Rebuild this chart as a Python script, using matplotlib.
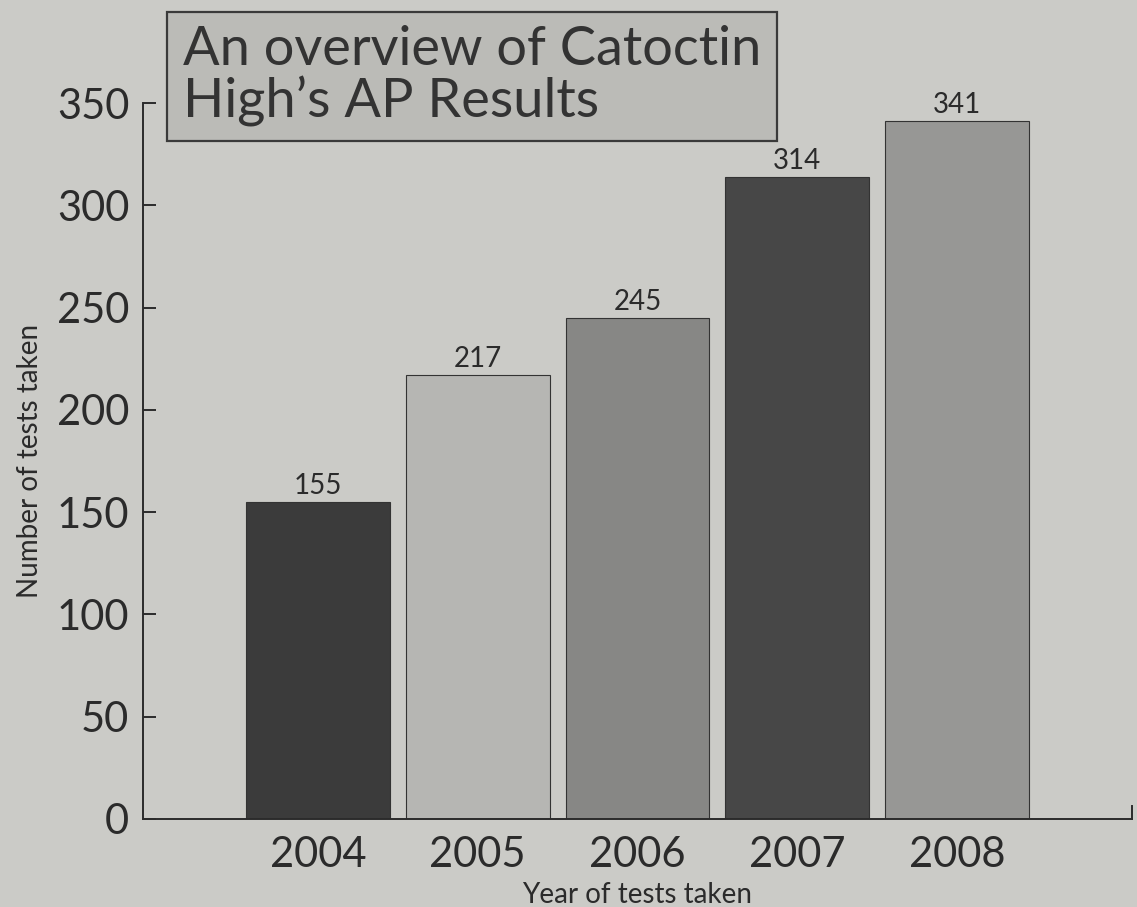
import matplotlib.pyplot as plt
from matplotlib.patches import Rectangle

years = ["2004", "2005", "2006", "2007", "2008"]
tests_taken = [155, 217, 245, 314, 341]
bar_colors = ["#3b3b3b", "#b6b6b3", "#878785", "#474747", "#979795"]

paper = "#cbcbc7"
ink = "#2b2b2b"

plt.rcParams['font.family'] = ['Lato', 'DejaVu Sans']

fig = plt.figure(figsize=(11.37, 9.07), dpi=100, facecolor=paper)
ax = fig.add_axes([143 / 1137, 1 - 819 / 907, (1132 - 143) / 1137, (819 - 103) / 907])
ax.set_facecolor(paper)

x = list(range(len(years)))
bars = ax.bar(x, tests_taken, width=0.9, color=bar_colors, edgecolor="#333333", linewidth=0.8)
for xi, v in zip(x, tests_taken):
    ax.text(xi, v + 1.5, str(v), ha="center", va="bottom", fontsize=20, color=ink)

ax.set_xlim(-1.095, 5.095)
ax.set_ylim(0, 350)
ax.set_yticks(range(0, 351, 50))
ax.set_xticks(x)
ax.set_xticklabels(years)

for side in ["top", "right"]:
    ax.spines[side].set_visible(False)
for side in ["left", "bottom"]:
    ax.spines[side].set_color(ink)
    ax.spines[side].set_linewidth(1.4)

ax.tick_params(axis="y", direction="in", length=9, width=1.4, color=ink,
               labelsize=30, labelcolor=ink, pad=10)
ax.tick_params(axis="x", length=0, labelsize=30, labelcolor=ink, pad=12)

# little upturn at the right end of the baseline
ax.axvline(5.095, ymin=0, ymax=0.018, color=ink, lw=1.4, clip_on=False)

ax.set_ylabel("Number of tests taken", fontsize=20, color=ink, labelpad=10)
ax.set_xlabel("Year of tests taken", fontsize=20, color=ink, labelpad=6)

# title box
fig.patches.append(Rectangle((167 / 1137, 1 - 141 / 907), (777 - 167) / 1137, (141 - 12) / 907,
                             transform=fig.transFigure, facecolor="#bbbbb7",
                             edgecolor="#3a3a3a", linewidth=1.6, zorder=5))
fig.text(183 / 1137, 1 - 76 / 907, "An overview of Catoctin\nHigh\u2019s AP Results",
         ha="left", va="center", fontsize=39, color="#333333", linespacing=1.06, zorder=6)

fig.savefig("out.png", dpi=100, facecolor=paper)
